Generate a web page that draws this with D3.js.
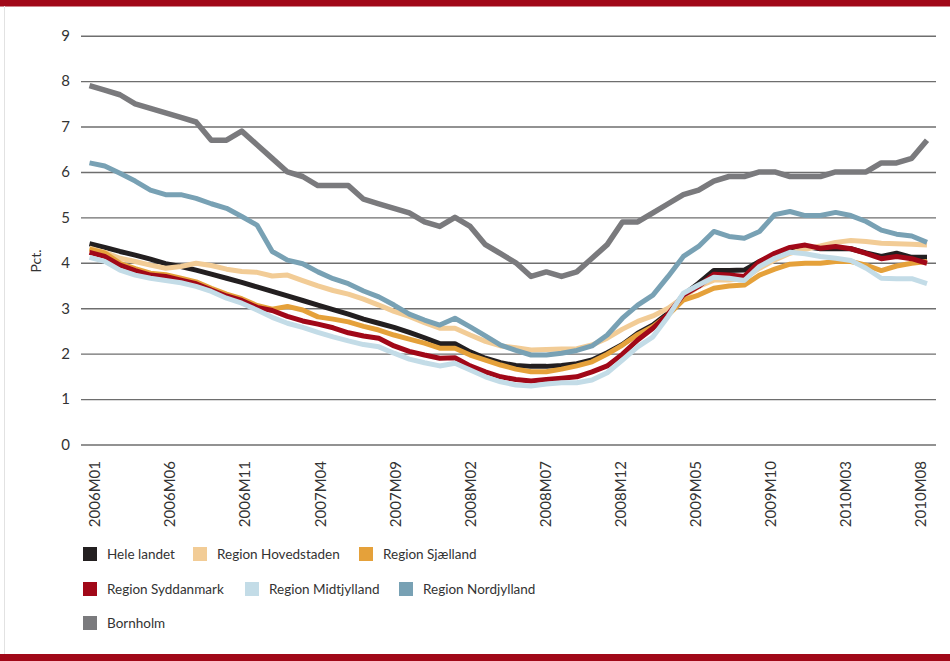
<!DOCTYPE html>
<html>
<head>
<meta charset="utf-8">
<script src="https://cdn.jsdelivr.net/npm/d3@7"></script>
<style>
body { margin: 0; background: #fff; }
svg { display: block; font-family: Lato, "Noto Sans", sans-serif; }
</style>
</head>
<body>
<svg id="chart" width="950" height="661"></svg>
<script>
//
// Data (pct., monthly 2006M01 - 2010M08)
//
var tickLabels = ["2006M01", "2006M06", "2006M11", "2007M04", "2007M09", "2008M02",
    "2008M07", "2008M12", "2009M05", "2009M10", "2010M03", "2010M08"];
var yTicks = [0, 1, 2, 3, 4, 5, 6, 7, 8, 9];

var seriesNames = ["Hele landet", "Region Hovedstaden", "Region Sjælland", "Region Syddanmark",
    "Region Midtjylland", "Region Nordjylland", "Bornholm"];
var seriesColors = ["#231f20", "#f2cc96", "#e5a13a", "#a10818", "#c3dce7", "#78a1b4", "#7a7a7d"];

var heleLandet = [4.42, 4.34, 4.25, 4.17, 4.08, 3.98, 3.92, 3.84, 3.75, 3.66,
    3.57, 3.47, 3.37, 3.27, 3.17, 3.07, 2.97, 2.87, 2.76, 2.67,
    2.58, 2.47, 2.35, 2.22, 2.22, 2.04, 1.9, 1.8, 1.74, 1.72,
    1.72, 1.74, 1.78, 1.86, 2.02, 2.2, 2.45, 2.63, 2.89, 3.29,
    3.55, 3.83, 3.83, 3.84, 4.03, 4.17, 4.31, 4.36, 4.31, 4.31,
    4.31, 4.22, 4.14, 4.21, 4.12, 4.12];
var hovedstaden = [4.32, 4.23, 4.1, 4.03, 3.95, 3.88, 3.92, 3.99, 3.94, 3.86,
    3.81, 3.79, 3.71, 3.73, 3.61, 3.49, 3.39, 3.31, 3.2, 3.07,
    2.93, 2.82, 2.68, 2.56, 2.56, 2.41, 2.27, 2.17, 2.13, 2.08,
    2.09, 2.1, 2.11, 2.19, 2.34, 2.54, 2.71, 2.83, 3.0, 3.24,
    3.48, 3.62, 3.62, 3.66, 3.88, 4.06, 4.21, 4.3, 4.37, 4.45,
    4.49, 4.47, 4.43, 4.42, 4.41, 4.39];
var sjaelland = [4.3, 4.22, 3.99, 3.87, 3.77, 3.74, 3.66, 3.58, 3.44, 3.31,
    3.21, 3.06, 2.98, 3.04, 2.96, 2.81, 2.76, 2.7, 2.6, 2.52,
    2.41, 2.32, 2.23, 2.12, 2.12, 1.97, 1.86, 1.75, 1.66, 1.6,
    1.6, 1.66, 1.73, 1.82, 1.99, 2.19, 2.42, 2.6, 2.85, 3.18,
    3.29, 3.44, 3.49, 3.51, 3.73, 3.86, 3.97, 3.99, 3.99, 4.03,
    4.03, 3.95, 3.83, 3.93, 3.99, 4.03];
var syddanmark = [4.23, 4.14, 3.95, 3.83, 3.73, 3.7, 3.62, 3.54, 3.4, 3.27,
    3.17, 3.02, 2.95, 2.82, 2.72, 2.65, 2.57, 2.46, 2.39, 2.34,
    2.17, 2.05, 1.97, 1.9, 1.91, 1.73, 1.6, 1.49, 1.43, 1.4,
    1.43, 1.46, 1.49, 1.6, 1.73, 1.99, 2.3, 2.56, 2.87, 3.29,
    3.48, 3.75, 3.73, 3.7, 4.03, 4.21, 4.34, 4.39, 4.32, 4.36,
    4.31, 4.21, 4.09, 4.14, 4.09, 3.99];
var midtjylland = [4.12, 4.03, 3.84, 3.73, 3.66, 3.61, 3.56, 3.48, 3.37, 3.22,
    3.11, 2.96, 2.8, 2.67, 2.58, 2.47, 2.37, 2.28, 2.2, 2.15,
    2.01, 1.88, 1.8, 1.73, 1.79, 1.64, 1.49, 1.38, 1.31, 1.29,
    1.33, 1.36, 1.36, 1.42, 1.58, 1.86, 2.15, 2.37, 2.82, 3.33,
    3.51, 3.68, 3.66, 3.61, 3.92, 4.1, 4.23, 4.2, 4.14, 4.1,
    4.05, 3.88, 3.66, 3.65, 3.65, 3.54];
var nordjylland = [6.2, 6.13, 5.97, 5.8, 5.6, 5.5, 5.5, 5.42, 5.3, 5.2,
    5.02, 4.83, 4.25, 4.06, 3.98, 3.8, 3.65, 3.54, 3.38, 3.25,
    3.07, 2.87, 2.74, 2.63, 2.78, 2.59, 2.39, 2.19, 2.07, 1.97,
    1.97, 2.01, 2.07, 2.17, 2.41, 2.78, 3.07, 3.29, 3.7, 4.14,
    4.36, 4.69, 4.58, 4.54, 4.69, 5.06, 5.13, 5.04, 5.04, 5.11,
    5.04, 4.91, 4.72, 4.63, 4.59, 4.45];
var bornholm = [7.9, 7.8, 7.7, 7.5, 7.4, 7.3, 7.2, 7.1, 6.7, 6.7,
    6.9, 6.6, 6.3, 6.0, 5.9, 5.7, 5.7, 5.7, 5.4, 5.3,
    5.2, 5.1, 4.9, 4.8, 5.0, 4.8, 4.4, 4.2, 4.0, 3.7,
    3.8, 3.7, 3.8, 4.1, 4.4, 4.9, 4.9, 5.1, 5.3, 5.5,
    5.6, 5.8, 5.9, 5.9, 6.0, 6.0, 5.9, 5.9, 5.9, 6.0,
    6.0, 6.0, 6.2, 6.2, 6.3, 6.7];

var allSeries = [heleLandet, hovedstaden, sjaelland, syddanmark, midtjylland, nordjylland, bornholm];

//
// Setup
//
var svg = d3.select("#chart");
var nMonths = heleLandet.length;

var x = d3.scaleLinear().domain([0, nMonths - 1]).range([89.5, 927]);
var xLab = d3.scaleLinear().domain([0, tickLabels.length - 1]).range([95, 921]);
var y = d3.scaleLinear().domain([0, 9]).range([444.5, 35.7]);

// frame bands
svg.append("rect").attr("x", 0).attr("y", 0).attr("width", 950).attr("height", 6.5).attr("fill", "#a10818");
svg.append("rect").attr("x", 0).attr("y", 654).attr("width", 950).attr("height", 7).attr("fill", "#a10818");
svg.append("line").attr("x1", 4.5).attr("x2", 4.5).attr("y1", 6).attr("y2", 654)
    .attr("stroke", "#e2e2e2").attr("stroke-width", 1);

// y axis with gridlines
var yAxis = d3.axisLeft(y).tickValues(yTicks).tickSize(-855).tickPadding(11);
var gy = svg.append("g").attr("transform", "translate(81,0)").call(yAxis);
gy.select(".domain").remove();
gy.selectAll(".tick line").attr("stroke", "#6e6e6e").attr("stroke-width", 1.4);
gy.selectAll(".tick text").attr("fill", "#333").attr("font-size", 15)
    .attr("font-family", "Lato, Noto Sans, sans-serif");

svg.append("text").attr("transform", "translate(41,261) rotate(-90)")
    .attr("text-anchor", "middle").attr("fill", "#333").attr("font-size", 14).text("Pct.");

// x tick labels (rotated)
svg.append("g").selectAll("text").data(tickLabels).enter().append("text")
    .attr("transform", function(d, i) { return "translate(" + xLab(i) + ",461) rotate(-90)"; })
    .attr("dy", "0.35em")
    .attr("text-anchor", "end")
    .attr("fill", "#333")
    .attr("font-size", 15)
    .text(function(d) { return d; });

// lines
var line = d3.line()
    .x(function(d, i) { return x(i); })
    .y(function(d) { return y(d); });

svg.append("g").selectAll("path").data(allSeries).enter().append("path")
    .attr("fill", "none")
    .attr("stroke", function(d, i) { return seriesColors[i]; })
    .attr("stroke-width", function(d, i) { return i == 6 ? 5.5 : 5; })
    .attr("stroke-linejoin", "round")
    .attr("d", line);

// legend
var legendPos = [[83, 554], [193, 554], [359, 554], [83, 589], [245, 589], [399, 589], [83, 623]];
var lg = svg.append("g").selectAll("g").data(seriesNames).enter().append("g")
    .attr("transform", function(d, i) { return "translate(" + legendPos[i][0] + "," + legendPos[i][1] + ")"; });
lg.append("rect").attr("x", 0).attr("y", -7).attr("width", 14).attr("height", 14)
    .attr("fill", function(d, i) { return seriesColors[i]; });
lg.append("text").attr("x", 24).attr("dy", "0.35em").attr("fill", "#333").attr("font-size", 13.5)
    .text(function(d) { return d; });
</script>
</body>
</html>
